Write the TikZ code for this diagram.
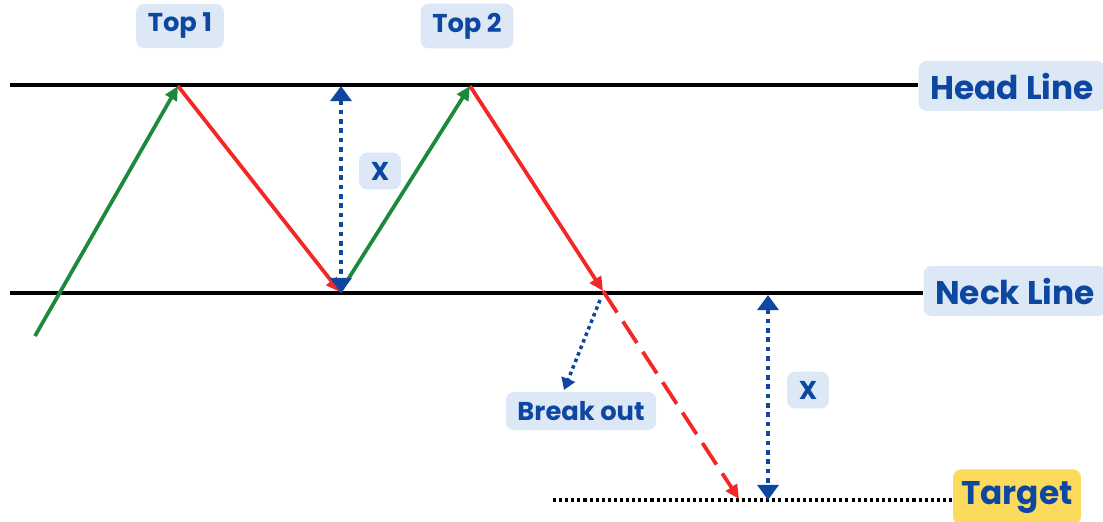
\documentclass[tikz,border=0pt]{standalone}
\usepackage{fontspec}
\newfontfamily\dtfont{Poppins}
\usetikzlibrary{arrows.meta}
\definecolor{dtNavy}{HTML}{0D47A1}
\definecolor{dtPale}{HTML}{DCE8F5}
\definecolor{dtGold}{HTML}{FBDA5E}
\definecolor{dtGreen}{HTML}{1C8A3C}
\definecolor{dtRed}{HTML}{F52626}
\tikzset{
  dt level/.style={draw=black, line width=3pt},
  dt up/.style={draw=dtGreen, line width=3.2pt, -{Triangle[length=12pt,width=11pt]}},
  dt down/.style={draw=dtRed, line width=3.2pt, -{Triangle[length=12pt,width=11pt]}},
  dt span/.style={draw=dtNavy, line width=4pt, dash pattern=on 4pt off 4pt, {Triangle[length=13pt,width=18pt]}-{Triangle[length=13pt,width=18pt]}},
  dt tag/.style={rounded corners=7pt, fill=dtPale, text=dtNavy, font=\dtfont\bfseries\fontsize{22}{26}\selectfont, inner xsep=10pt, inner ysep=8pt},
  dt big tag/.style={dt tag, font=\dtfont\bfseries\fontsize{28}{32}\selectfont, inner ysep=10pt},
}
\begin{document}
\begin{tikzpicture}[x=0.03cm,y=-0.03cm]
\useasboundingbox (0,0) rectangle (1103,521);
% labels
\node[dt tag] (top1) at (180,26) {Top 1};
\node[dt tag] (top2) at (467,26) {Top 2};
\node[dt big tag] (head) at (1012,86) {Head Line};
\node[dt big tag] (neck) at (1015,291) {Neck Line};
\node[dt big tag, fill=dtGold, inner xsep=7pt] (target) at (1017,497) {Target};
\node[dt tag] (x1) at (380,171) {X};
\node[dt tag] (x2) at (808,390) {X};
\node[dt tag] (brk) at (581,411) {Break out};
% price path
\coordinate (p0) at (35,336);
\coordinate (p1) at (178,86);
\coordinate (p2) at (340,292);
\coordinate (p3) at (470,86);
\coordinate (p4) at (603,291);
\coordinate (p5) at (739,499);
% levels
\coordinate (hl) at (10,85);
\coordinate (nl) at (10,293);
\coordinate (tl) at (553,500);
\draw[dt level] (hl) -- (hl -| head.west);
\draw[dt level] (nl) -- (nl -| neck.west);
\draw[line width=2.6pt, dash pattern=on 2.6pt off 2.6pt] (tl) -- (tl -| target.west);
\draw[dt up] (p0) -- (p1);
\draw[dt down] (p1) -- (p2);
\draw[dt up] (p2) -- (p3);
\draw[dt down] (p3) -- (p4);
\draw[dt down, dash pattern=on 22pt off 9pt] (p4) -- (p5);
% heights
\coordinate (a1) at (341,86);
\coordinate (b1) at (341,293);
\coordinate (a2) at (768,295);
\coordinate (b2) at (768,500);
\draw[dt span] (a1) -- (b1);
\draw[dt span] (a2) -- (b2);
\coordinate (bo) at (600,300);
\coordinate (bo end) at (564,390);
\draw[draw=dtNavy, line width=3pt, dash pattern=on 3pt off 3pt, -{Triangle[length=10pt,width=12pt]}] (bo) -- (bo end);
\end{tikzpicture}
\end{document}
